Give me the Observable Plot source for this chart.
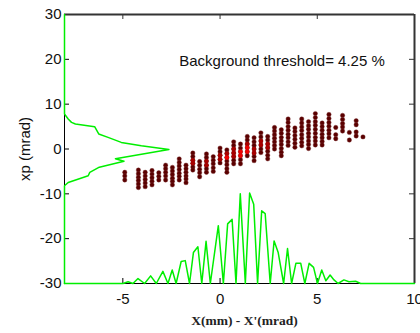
<!DOCTYPE html>
<html><head><meta charset="utf-8">
<script src="https://cdn.jsdelivr.net/npm/d3@7"></script>
<script src="https://cdn.jsdelivr.net/npm/@observablehq/plot@0.6"></script>
<style>html,body{margin:0;padding:0;background:#fff}#chart svg{display:block}</style>
</head><body><div id="chart"></div>
<script>
const xTicks = [-5, 0, 5, 10];
const yTicks = [-30, -20, -10, 0, 10, 20, 30];
const xLabel = "X(mm) - X'(mrad)";
const yLabel = "xp (mrad)";
const note = {text: "Background threshold= 4.25 %", x: -2.1, y: 19.5};

// phase-space columns: x position and the xp values of each dot in the column
const colX = [-4.9,-4.2,-3.85,-3.5,-3.15,-2.8,-2.45,-2.1,-1.75,-1.4,-1.05,-0.7,-0.35,0,0.35,0.7,1.05,1.4,1.75,2.1,2.45,2.8,3.15,3.5,3.85,4.2,4.55,4.9,5.25,5.6,5.95,6.3,6.65,7.0,7.35];
const colY = [
  [-5.2,-6.0,-6.9],
  [-4.7,-5.5,-6.3,-7.0,-7.8,-8.6],
  [-5.2,-6.0,-6.8,-7.6,-8.4],
  [-4.8,-5.6,-6.4,-7.2,-8.0],
  [-5.3,-6.1,-6.9],
  [-3.6,-4.4,-5.2,-6.0,-6.9],
  [-4.1,-4.9,-5.7,-6.5,-7.2,-8.0],
  [-2.2,-3.0,-3.8,-4.6,-5.4,-6.1,-6.9],
  [-3.6,-4.4,-5.2,-6.0,-6.7,-7.5],
  [-0.9,-1.7,-2.5,-3.2,-4.0,-4.7],
  [-2.8,-3.6,-4.5,-5.3,-6.2],
  [-1.1,-1.9,-2.7,-3.6,-4.4,-5.2],
  [-1.7,-2.5,-3.3,-4.2,-5.0],
  [0.2,-0.6,-1.4,-2.3,-3.1],
  [-0.2,-1.0,-1.9,-2.7,-3.5,-4.4,-5.2],
  [1.6,0.8,0,-0.9,-1.7,-2.5,-3.3],
  [1.1,0.2,-0.6,-1.5,-2.4,-3.3],
  [2.8,2.0,1.1,0.3,-0.6,-1.5],
  [2.5,1.6,0.8,0,-0.9,-1.7,-2.6],
  [3.6,2.7,1.8,0.9,0,-0.8],
  [2.8,2.0,1.1,0.3,-0.5,-1.4,-2.2],
  [4.8,4.0,3.2,2.4,1.6,0.8,0],
  [4.3,3.5,2.6,1.8,1.0,0.1,-0.7,-1.5],
  [6.7,5.9,5.0,4.2,3.3,2.5,1.6,0.8],
  [4.7,3.9,3.0,2.2,1.3,0.4],
  [6.7,5.8,4.9,4.1,3.2,2.4,1.5,0.7],
  [6.1,5.2,4.4,3.5,2.7,1.8,1.0,0.1],
  [7.9,7.0,6.1,5.3,4.4,3.5,2.6,1.8,0.9],
  [5.8,5.0,4.2,3.3,2.5,1.7,0.9],
  [7.7,6.8,5.9,5.1,4.2,3.4,2.5],
  [4.8,3.2,2.3],
  [7.5,6.6,5.7,4.9,4.0],
  [3.7,2.0],
  [6.3,5.4,3.8,2.9],
  [2.7]
];
// denser (redder) dots near the core
const midRedX = [-1.4,-1.4,-0.7,-0.7,0,0,0.35,0.35,0.7,0.7,0.7,1.75,1.75,2.1,2.1,1.4,2.45,2.45];
const midRedY = [-2.5,-3.2,-2.7,-3.6,-1.4,-2.3,-1.0,-1.9,0,-0.9,-1.7,0,-0.9,1.8,0.9,1.1,1.1,0.3];
const hotX = [1.05,1.05,1.4,1.4,0.35];
const hotY = [-0.6,-1.5,0.3,-0.6,-1.9];

// projection on X (bottom profile)
const profXx = [-8,-4.99,-4.73,-4.48,-4.22,-3.88,-3.57,-3.28,-2.94,-2.68,-2.46,-2.26,-2.0,-1.79,-1.57,-1.37,-1.14,-0.94,-0.72,-0.5,-0.09,0.17,0.39,0.62,0.82,1.04,1.3,1.52,1.73,1.93,2.14,2.32,2.58,2.78,2.99,3.27,3.47,3.68,3.9,4.15,4.36,4.58,4.81,5.01,5.23,5.44,5.66,5.86,6.07,6.37,6.63,6.97,7.23,10];
const profXy = [-30,-30,-29.6,-30,-28.9,-30,-28.3,-30,-27.3,-30,-27.0,-30,-25.1,-24.9,-30,-23.1,-21.8,-30,-20.6,-30,-17.1,-30,-16.7,-15.7,-30,-10.0,-30,-9.8,-12.3,-30,-13.8,-14.4,-30,-20.5,-23.1,-30,-22.2,-30,-25.5,-25.5,-30,-25.5,-26.4,-30,-27.0,-29.4,-28.1,-29.2,-30,-29.2,-29.6,-29.5,-30,-30];
// projection on xp (left profile)
const profYx = [-8,-8,-7.81,-7.64,-7.44,-6.45,-6.24,-5.76,-5.08,-4.05,-2.63,-5.38,-4.94,-6.21,-6.70,-6.78,-7.81,-8,-8];
const profYy = [30,7.8,6.7,5.94,5.58,4.98,3.35,2.59,1.47,0.74,-0.09,-2.17,-2.72,-4.06,-5.22,-5.96,-7.46,-8.19,-30];

const dots = colX.flatMap((x, i) => colY[i].map(y => ({x, y})));
const mids = midRedX.map((x, i) => ({x, y: midRedY[i]}));
const hots = hotX.map((x, i) => ({x, y: hotY[i]}));
const profX = profXx.map((x, i) => ({x, y: profXy[i]}));
const profY = profYx.map((x, i) => ({x, y: profYy[i]}));

const green = "#00ee00";
const W = 420, H = 333, mL = 64, mR = 6, mT = 14, mB = 50;
const pw = W - mL - mR, ph = H - mT - mB, tk = 5;
const fmt = d => String(d);

const chart = Plot.plot({
  width: W, height: H,
  marginLeft: mL, marginRight: mR, marginTop: mT, marginBottom: mB,
  x: {domain: [-8, 10]},
  y: {domain: [-30, 30]},
  style: {fontFamily: "'Liberation Sans', Arial, sans-serif", background: "#fff", color: "#111"},
  marks: [
    Plot.axisX(xTicks, {tickSize: 0, tickPadding: 10, fontSize: 15, label: null, tickFormat: fmt}),
    Plot.axisY(yTicks, {tickSize: 0, tickPadding: 3, fontSize: 15, label: null, tickFormat: fmt}),
    Plot.tickY(yTicks, {y: d => d, insetRight: pw - tk, stroke: "#000"}),
    Plot.tickY(yTicks, {y: d => d, insetLeft: pw - tk, stroke: "#333"}),
    Plot.tickX(xTicks, {x: d => d, insetBottom: ph - tk, stroke: "#333"}),
    Plot.tickX(xTicks, {x: d => d, insetTop: ph - tk, stroke: "#000"}),
    Plot.ruleY([30], {stroke: "#333", strokeWidth: 2}),
    Plot.ruleX([10], {stroke: "#333", strokeWidth: 2}),
    Plot.ruleX([-8], {stroke: "#000", strokeWidth: 1}),
    Plot.ruleY([-30], {stroke: "#000", strokeWidth: 1}),
    Plot.dot(dots, {x: "x", y: "y", r: 2.2, fill: "#5a0000", stroke: "#7a2a2a", strokeWidth: 0.4}),
    Plot.dot(mids, {x: "x", y: "y", r: 2.2, fill: "#a80000"}),
    Plot.dot(hots, {x: "x", y: "y", r: 2.2, fill: "#ee0000"}),
    Plot.line(profX, {x: "x", y: "y", stroke: green, strokeWidth: 1.5}),
    Plot.line(profY, {x: "x", y: "y", stroke: green, strokeWidth: 1.5}),
    Plot.text([note], {x: "x", y: "y", text: "text", textAnchor: "start", fontSize: 15, fill: "#111"}),
    Plot.text([xLabel], {frameAnchor: "bottom", dy: 41, dx: 5, fontSize: 13.5, fontWeight: "bold", fontFamily: "'Liberation Serif', 'Times New Roman', serif", fill: "#222"}),
    Plot.text([yLabel], {frameAnchor: "left", textAnchor: "middle", rotate: -90, dx: -39, fontSize: 15, fill: "#111"})
  ]
});
document.getElementById("chart").appendChild(chart);
</script>
</body></html>
